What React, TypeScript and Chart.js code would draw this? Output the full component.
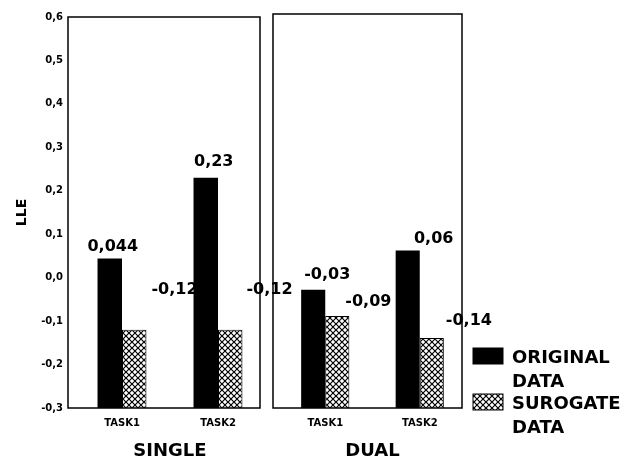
import React, { useEffect, useRef } from 'react';
import { Chart, registerables } from 'chart.js';

Chart.register(...registerables);

// ---- data ----
const TASKS = ['TASK1', 'TASK2'];
const PANELS = ['SINGLE', 'DUAL'];
const SERIES_ORIGINAL = ['ORIGINAL', 'DATA'];
const SERIES_SURROGATE = ['SUROGATE', 'DATA'];
const SINGLE_ORIGINAL = [0.044, 0.23];
const SINGLE_SURROGATE = [-0.12, -0.12];
const DUAL_ORIGINAL = [-0.03, 0.06];
const DUAL_SURROGATE = [-0.09, -0.14];
const Y_MIN = -0.3;
const Y_MAX = 0.6;
const Y_STEP = 0.1;
const Y_TITLE = 'LLE';

const FONT = '"DejaVu Sans", "Liberation Sans", sans-serif';
const W = 625;
const H = 460;

function fmt(v: number, digits?: number): string {
  const s = digits === undefined ? String(v) : v.toFixed(digits);
  return s.replace('.', ',');
}

function makePattern(): CanvasPattern | string {
  const c = document.createElement('canvas');
  c.width = 6;
  c.height = 6;
  const g = c.getContext('2d');
  if (!g) return '#888';
  g.fillStyle = '#fff';
  g.fillRect(0, 0, 6, 6);
  g.strokeStyle = '#000';
  g.lineWidth = 1.2;
  g.beginPath();
  g.moveTo(0, 0);
  g.lineTo(6, 6);
  g.moveTo(6, 0);
  g.lineTo(0, 6);
  g.stroke();
  const p = g.createPattern(c, 'repeat');
  return p || '#888';
}

type Nudge = { dx: number; dy: number };

interface PanelCfg {
  title: string;
  original: number[];
  surrogate: number[];
  padLeft: number;
  padRight: number;
  padTop: number;
  showY: boolean;
  showLegend: boolean;
  borderShift: number;
  origNudge: Nudge[];
  surNudge: Nudge[];
}

function buildChart(canvas: HTMLCanvasElement, cfg: PanelCfg): Chart {
  const pattern = makePattern();
  const deco = {
    id: 'deco' + cfg.title,
    afterDraw(chart: any) {
      const { ctx, chartArea } = chart;
      ctx.save();
      // panel frame
      ctx.strokeStyle = '#000';
      ctx.lineWidth = 1.5;
      ctx.strokeRect(
        chartArea.left + cfg.borderShift,
        chartArea.top,
        chartArea.right - chartArea.left,
        chartArea.bottom - chartArea.top
      );
      // value labels
      ctx.fillStyle = '#000';
      ctx.font = `bold 16px ${FONT}`;
      const m0 = chart.getDatasetMeta(0);
      m0.data.forEach((bar: any, i: number) => {
        const n = cfg.origNudge[i];
        ctx.textAlign = 'center';
        ctx.textBaseline = 'alphabetic';
        ctx.fillText(fmt(cfg.original[i]), bar.x + n.dx, bar.y - n.dy);
      });
      const m1 = chart.getDatasetMeta(1);
      m1.data.forEach((bar: any, i: number) => {
        const n = cfg.surNudge[i];
        ctx.textAlign = 'left';
        ctx.textBaseline = 'middle';
        ctx.fillText(fmt(cfg.surrogate[i]), bar.x + bar.width / 2 + n.dx, bar.y - n.dy);
      });
      // legend
      if (cfg.showLegend) {
        const bx = chartArea.right + cfg.borderShift + 11;
        const items = [
          { lines: SERIES_ORIGINAL, fill: '#000', top: chartArea.bottom - 60 },
          { lines: SERIES_SURROGATE, fill: pattern, top: chartArea.bottom - 14 },
        ];
        ctx.font = `bold 18px ${FONT}`;
        ctx.textAlign = 'left';
        ctx.textBaseline = 'alphabetic';
        items.forEach((it) => {
          ctx.fillStyle = it.fill as any;
          ctx.fillRect(bx, it.top, 30, 16);
          ctx.strokeStyle = '#000';
          ctx.lineWidth = 1;
          ctx.strokeRect(bx, it.top, 30, 16);
          ctx.fillStyle = '#000';
          it.lines.forEach((ln, k) => {
            ctx.fillText(ln, bx + 39, it.top + 15 + k * 24);
          });
        });
      }
      ctx.restore();
    },
  };

  return new Chart(canvas, {
    type: 'bar',
    data: {
      labels: TASKS,
      datasets: [
        {
          label: SERIES_ORIGINAL.join(' '),
          data: cfg.original,
          base: Y_MIN,
          backgroundColor: '#000',
          borderWidth: 0,
          categoryPercentage: 0.51,
          barPercentage: 1.0,
        } as any,
        {
          label: SERIES_SURROGATE.join(' '),
          data: cfg.surrogate,
          base: Y_MIN,
          backgroundColor: pattern as any,
          borderColor: '#000',
          borderWidth: 1,
          categoryPercentage: 0.51,
          barPercentage: 1.0,
        } as any,
      ],
    },
    options: {
      responsive: false,
      animation: false,
      layout: { padding: { top: cfg.padTop, bottom: 0, left: cfg.padLeft, right: cfg.padRight } },
      plugins: {
        legend: { display: false },
        tooltip: { enabled: false },
      },
      scales: {
        x: {
          type: 'category',
          offset: true,
          grid: { display: false, drawTicks: false },
          border: { display: false },
          ticks: {
            color: '#000',
            font: { family: FONT, size: 10, weight: 'bold' },
            padding: 9,
            maxRotation: 0,
          },
          title: {
            display: true,
            text: cfg.title,
            color: '#000',
            font: { family: FONT, size: 18, weight: 'bold', lineHeight: 1 },
            padding: { top: 0, bottom: 0 },
          },
          afterFit: (s: any) => {
            s.height = 52;
          },
        },
        y: {
          display: cfg.showY,
          min: Y_MIN,
          max: Y_MAX,
          grid: { display: false, drawTicks: false },
          border: { display: false },
          ticks: {
            stepSize: Y_STEP,
            color: '#000',
            padding: 11,
            font: { family: FONT, size: 10, weight: 'bold' },
            callback: (v: any) => fmt(Number(v), 1),
          },
          title: {
            display: cfg.showY,
            text: Y_TITLE,
            color: '#000',
            font: { family: FONT, size: 14, weight: 'bold' },
            padding: { top: 14, bottom: 0 },
          },
          afterFit: (s: any) => {
            s.width = cfg.showY ? 74 : 0;
          },
        },
      },
    },
    plugins: [deco],
  } as any);
}

export default function App() {
  const leftRef = useRef<HTMLCanvasElement>(null);
  const rightRef = useRef<HTMLCanvasElement>(null);

  useEffect(() => {
    const charts: Chart[] = [];
    if (leftRef.current) {
      charts.push(
        buildChart(leftRef.current, {
          title: PANELS[0],
          original: SINGLE_ORIGINAL,
          surrogate: SINGLE_SURROGATE,
          padLeft: 0,
          padRight: W - 266,
          padTop: 13,
          showY: true,
          showLegend: false,
          borderShift: -6,
          origNudge: [
            { dx: 3, dy: 8 },
            { dx: 8, dy: 12 },
          ],
          surNudge: [
            { dx: 5, dy: 40 },
            { dx: 4, dy: 40 },
          ],
        })
      );
    }
    if (rightRef.current) {
      charts.push(
        buildChart(rightRef.current, {
          title: PANELS[1],
          original: DUAL_ORIGINAL,
          surrogate: DUAL_SURROGATE,
          padLeft: 278,
          padRight: W - 467,
          padTop: 14,
          showY: false,
          showLegend: true,
          borderShift: -5,
          origNudge: [
            { dx: 14, dy: 11 },
            { dx: 26, dy: 7 },
          ],
          surNudge: [
            { dx: -4, dy: 14 },
            { dx: 2, dy: 17 },
          ],
        })
      );
    }
    return () => charts.forEach((c) => c.destroy());
  }, []);

  const cstyle: React.CSSProperties = { position: 'absolute', left: 0, top: 0, width: W, height: H };
  return (
    <div style={{ position: 'absolute', left: 0, top: 0, width: W, height: H, background: '#fff' }}>
      <canvas ref={leftRef} width={W} height={H} style={cstyle} />
      <canvas ref={rightRef} width={W} height={H} style={cstyle} />
    </div>
  );
}
